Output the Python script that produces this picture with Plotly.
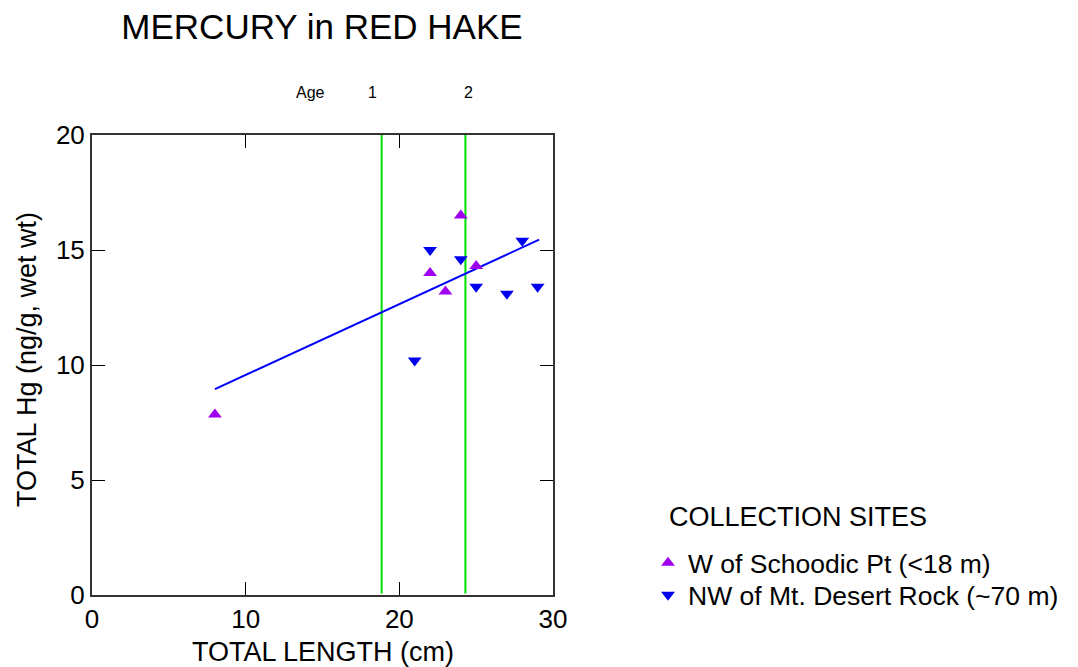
import plotly.graph_objects as go

# Data
schoodic_len = [8, 22, 23, 24, 25]
schoodic_hg = [7.85, 14.0, 13.2, 16.5, 14.3]
mdr_len = [21, 22, 24, 25, 27, 28, 29]
mdr_hg = [10.2, 15.0, 14.6, 13.4, 13.1, 15.4, 13.4]
fit_len = [8, 29.1]
fit_hg = [8.95, 15.45]
age_len = [18.85, 24.3]
age_labels = ["1", "2"]

FONT = "Liberation Sans, Arial, sans-serif"

# plot area in pixels
L, R, T, B = 92, 553, 135, 595
PW, PH = R - L, B - T


def px(xp):
    return (xp - L) / PW


def py(yp):
    return (B - yp) / PH


fig = go.Figure()

for xv in age_len:
    fig.add_trace(go.Scatter(x=[xv, xv], y=[0.07, 20.15], mode="lines",
                             line=dict(color="#00e000", width=2),
                             showlegend=False, hoverinfo="skip", cliponaxis=False))

fig.add_trace(go.Scatter(x=fit_len, y=fit_hg, mode="lines",
                         line=dict(color="#0000ff", width=2), showlegend=False))

fig.add_trace(go.Scatter(x=schoodic_len, y=schoodic_hg, mode="markers",
                         name="W of Schoodic Pt (<18 m)", legend="legend",
                         marker=dict(symbol="triangle-up", size=12, color="#a000f0")))
fig.add_trace(go.Scatter(x=mdr_len, y=mdr_hg, mode="markers",
                         name="NW of Mt. Desert Rock (~70 m)", legend="legend2",
                         marker=dict(symbol="triangle-down", size=12, color="#0000ee")))

ann_objs = []
for text, xp in [("Age", 310), (age_labels[0], 372), (age_labels[1], 468)]:
    ann_objs.append(dict(text=text, x=px(xp), y=py(92), xref="paper", yref="paper",
                         showarrow=False, xanchor="center", yanchor="middle",
                         font=dict(size=16, color="black", family=FONT)))
ann_objs.append(dict(text="COLLECTION SITES", x=px(667), y=py(517), xref="paper", yref="paper",
                     showarrow=False, xanchor="left", yanchor="middle",
                     font=dict(size=27, color="black", family=FONT)))
ann_objs.append(dict(text="TOTAL Hg (ng/g, wet wt)", x=px(27), y=py(360), xref="paper",
                     yref="paper", showarrow=False, textangle=-90, xanchor="center",
                     yanchor="middle", font=dict(size=27, color="black", family=FONT)))
ann_objs.append(dict(text="TOTAL LENGTH (cm)", x=px(323), y=py(652), xref="paper",
                     yref="paper", showarrow=False, xanchor="center",
                     yanchor="middle", font=dict(size=27, color="black", family=FONT)))

leg_common = dict(xanchor="left", yanchor="top", font=dict(size=26.5, family=FONT),
                  bgcolor="rgba(0,0,0,0)", itemwidth=30, borderwidth=0)

fig.update_layout(
    width=1078, height=667,
    margin=dict(l=L, r=1078 - R, t=T, b=667 - B),
    paper_bgcolor="white", plot_bgcolor="white",
    font=dict(family=FONT, color="black", size=26),
    title=dict(text="MERCURY in RED HAKE", x=322 / 1078, xanchor="center",
               y=1 - 27 / 667, yanchor="middle", font=dict(size=35, family=FONT)),
    xaxis=dict(range=[0, 30], tickvals=[0, 10, 20, 30], ticks="inside", ticklen=13,
               tickcolor="black", linecolor="#333", linewidth=2, mirror="ticks",
               showgrid=False, zeroline=False, tickfont=dict(size=26), automargin=False),
    yaxis=dict(range=[0, 20], tickvals=[0, 5, 10, 15, 20], ticks="inside", ticklen=13,
               tickcolor="black", linecolor="#333", linewidth=2, mirror="ticks",
               showgrid=False, zeroline=False, tickfont=dict(size=26), automargin=False),
    legend=dict(x=px(648), y=py(539), **leg_common),
    legend2=dict(x=px(648), y=py(571), **leg_common),
    annotations=ann_objs,
    showlegend=True,
)

fig.write_html("out.html")
